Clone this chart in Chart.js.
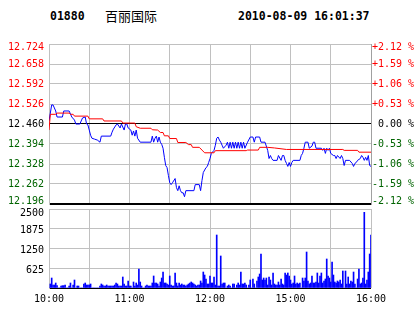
<!DOCTYPE html>
<html>
<head>
<meta charset="utf-8">
<script src="https://cdn.jsdelivr.net/npm/chart.js@4.4.0/dist/chart.umd.min.js"></script>
<style>
  body { margin: 0; background: #fff; width: 414px; height: 314px; overflow: hidden; position: relative; }
  canvas { position: absolute; left: 0; }
  #priceCanvas { top: 0; }
  #volCanvas { top: 195px; }
  .hdr { position: absolute; top: 9px; font: bold 11.5px "DejaVu Sans Mono", monospace; color: #000; line-height: 14px; white-space: nowrap; }
  .name { position: absolute; top: 7px; left: 105px; font: 13px "Noto Sans CJK SC"; line-height: 18px; color: #000; }
</style>
</head>
<body>
<div class="hdr" style="left:50px">01880</div>
<div class="name">百丽国际</div>
<div class="hdr" style="left:238px">2010-08-09 16:01:37</div>
<canvas id="priceCanvas" width="414" height="215"></canvas>
<canvas id="volCanvas" width="414" height="119"></canvas>
<script>
// previous close and axis ticks
const prevClose = 12.46;
const priceTicks = [12.196, 12.262, 12.328, 12.394, 12.460, 12.526, 12.592, 12.658, 12.724];
const volumeTicks = [0, 625, 1250, 1875, 2500];
const gridMinutes = [0, 30, 60, 90, 120, 150, 180, 210, 240];
const timeTickMinutes = [0, 60, 120, 180, 240];
const timeTickLabels = ['10:00', '11:00', '12:00', '15:00', '16:00'];

// last price (minutes after 10:00, trading time only)
const priceMinutes = [0,2,3,4,5,6,10,11,15,16,17,19,20,23,24,25,27,28,29,30,31,32,34,36,38,39,46,47,48,50,51,53,54,56,57,58,59,61,62,63,64,65,66,68,76,77,78,79,80,81,82,83,84,85,86,87,88,89,90,91,92,94,95,96,97,98,99,100,101,102,108,109,112,113,114,115,117,118,119,120,121,123,124,125,126,127,128,129,130,132,133,134,135,136,137,138,139,140,141,142,143,144,145,146,148,150,152,153,154,157,158,161,163,164,165,166,167,170,171,173,174,175,176,177,178,179,180,181,182,187,188,189,190,191,193,194,196,197,198,199,203,204,205,206,207,208,209,210,212,213,214,215,217,218,219,220,221,224,226,227,228,229,230,232,233,234,235,236,237,238,239,240];
const priceValues = [12.470,12.523,12.523,12.513,12.503,12.483,12.483,12.503,12.503,12.493,12.483,12.473,12.460,12.460,12.470,12.480,12.483,12.460,12.457,12.440,12.423,12.413,12.410,12.407,12.400,12.420,12.420,12.433,12.443,12.457,12.460,12.447,12.460,12.440,12.460,12.460,12.447,12.440,12.423,12.437,12.420,12.440,12.413,12.400,12.400,12.420,12.400,12.413,12.420,12.400,12.417,12.400,12.393,12.380,12.350,12.323,12.316,12.290,12.266,12.260,12.266,12.280,12.250,12.240,12.256,12.240,12.233,12.233,12.220,12.240,12.240,12.260,12.260,12.240,12.273,12.300,12.316,12.320,12.333,12.346,12.363,12.373,12.390,12.413,12.417,12.407,12.400,12.390,12.380,12.390,12.400,12.380,12.400,12.380,12.400,12.380,12.400,12.380,12.400,12.380,12.400,12.380,12.400,12.380,12.400,12.417,12.417,12.400,12.417,12.417,12.400,12.400,12.373,12.346,12.356,12.346,12.340,12.340,12.356,12.340,12.356,12.356,12.340,12.330,12.320,12.333,12.320,12.333,12.340,12.340,12.356,12.363,12.380,12.400,12.400,12.380,12.387,12.400,12.400,12.380,12.380,12.373,12.380,12.363,12.380,12.373,12.380,12.363,12.356,12.356,12.346,12.356,12.346,12.356,12.346,12.323,12.340,12.340,12.330,12.320,12.330,12.333,12.340,12.346,12.356,12.350,12.340,12.350,12.340,12.356,12.323,12.320];

// average price
const avgMinutes = [0,1,5,6,15,16,18,19,29,30,40,41,54,55,64,65,68,76,77,81,83,85,86,89,90,95,96,102,104,106,107,112,114,116,123,124,147,148,156,157,163,168,177,219,220,230,231,240];
const avgValues = [12.440,12.492,12.492,12.496,12.496,12.492,12.492,12.486,12.486,12.477,12.477,12.470,12.470,12.463,12.463,12.451,12.446,12.446,12.441,12.440,12.432,12.432,12.421,12.421,12.412,12.412,12.399,12.399,12.392,12.392,12.383,12.383,12.374,12.365,12.365,12.372,12.372,12.374,12.374,12.383,12.383,12.381,12.376,12.376,12.373,12.373,12.367,12.367];

// volume per minute, index = minute
const volumeValues = [
  0,127,316,95,95,158,74,0,0,63, 74,74,95,0,0,63,158,0,95,253,
  0,63,63,0,0,0,127,158,95,95, 95,127,0,0,0,0,0,0,63,127,
  95,63,63,95,63,63,63,63,63,95, 158,127,63,63,63,348,127,63,63,222,
  63,63,0,190,63,158,95,601,190,63, 0,0,63,95,63,63,63,158,380,158,
  158,127,63,190,316,506,158,158,127,95, 380,95,63,63,475,158,63,158,95,127,
  95,95,63,95,127,158,190,158,127,95, 63,95,95,222,158,506,411,285,127,127,
  380,158,158,348,95,1677,63,63,1013,127, 158,158,0,63,95,63,0,127,127,0,
  95,158,95,506,127,127,158,95,0,95, 253,0,285,127,0,222,348,443,1076,253,
  316,253,316,95,348,253,95,475,127,95, 95,190,95,285,127,95,475,411,475,380,
  253,127,158,380,127,158,127,158,0,316, 222,316,1139,222,127,158,380,158,158,190,
  475,158,380,475,158,222,285,918,380,316, 190,823,411,190,158,222,190,253,127,538,
  0,538,127,348,127,222,190,506,127,0, 285,601,127,158,316,2395,127,253,506,1076,
  1677
];

const RED = '#ff0000', GREEN = '#006400', GRID = '#c0c0c0';
const FAMILY = '"DejaVu Sans Mono", monospace';
Chart.defaults.font.family = FAMILY;
Chart.defaults.font.size = 10;

function pct(p) { return (p / prevClose - 1) * 100; }
function signColor(d) { return d > 0.0001 ? RED : (d < -0.0001 ? GREEN : '#000'); }

// edge labels sit inside the plot: top one pushed down, bottom one pushed up
const lastIdx = priceTicks.length - 1;
function edgeLabel(text, i) {
  if (i === lastIdx) return ['', text];
  if (i === 0) return [text, ''];
  return text;
}
const edgeFont = ctx => ({ family: FAMILY, size: 10, lineHeight: (ctx.index === 0 || ctx.index === lastIdx) ? '6px' : 1.2 });

const priceData = priceMinutes.map((m, i) => ({ x: m, y: priceValues[i] }));
const avgData = avgMinutes.map((m, i) => ({ x: m, y: avgValues[i] }));
const volData = volumeValues.map((v, i) => ({ x: i, y: v }));

new Chart(document.getElementById('priceCanvas'), {
  type: 'line',
  data: {
    datasets: [
      { data: avgData, borderColor: RED, borderWidth: 1, pointRadius: 0, tension: 0 },
      { data: priceData, borderColor: '#0000ff', borderWidth: 1, pointRadius: 0, tension: 0 }
    ]
  },
  options: {
    responsive: false, animation: false, devicePixelRatio: 1,
    layout: { padding: { top: 44, bottom: 7, left: 0, right: 0 } },
    plugins: { legend: { display: false }, tooltip: { enabled: false } },
    scales: {
      x: {
        type: 'linear', min: 0, max: 240,
        afterBuildTicks: s => { s.ticks = gridMinutes.map(v => ({ value: v })); },
        ticks: { display: false },
        grid: { color: GRID, drawTicks: false },
        border: { display: false },
        afterFit: s => { s.height = 0; }
      },
      y: {
        position: 'left', min: priceTicks[0], max: priceTicks[lastIdx],
        afterBuildTicks: s => { s.ticks = priceTicks.map(v => ({ value: v })); },
        ticks: {
          padding: 5,
          font: edgeFont,
          color: ctx => signColor(ctx.tick.value - prevClose),
          callback: (v, i) => edgeLabel(v.toFixed(3), i)
        },
        grid: {
          drawTicks: false,
          color: ctx => (ctx.tick && (ctx.tick.value === prevClose || ctx.tick.value === priceTicks[0])) ? '#000' : GRID,
          lineWidth: ctx => (ctx.tick && ctx.tick.value === priceTicks[0]) ? 2 : 1
        },
        border: { color: GRID },
        afterFit: s => { s.width = 49; }
      },
      y2: {
        position: 'right', min: pct(priceTicks[0]), max: pct(priceTicks[lastIdx]),
        afterBuildTicks: s => { s.ticks = priceTicks.map(p => ({ value: pct(p) })); },
        ticks: {
          padding: 1,
          font: edgeFont,
          color: ctx => signColor(ctx.tick.value),
          callback: (v, i) => {
            let t;
            if (Math.abs(v) < 0.0001) t = ' 0.00 %';
            else t = (v > 0 ? '+' : '-') + Math.abs(v).toFixed(2) + ' %';
            return edgeLabel(t, i);
          }
        },
        grid: { display: false, drawTicks: false },
        border: { color: '#a0a0a0' },
        afterFit: s => { s.width = 43; }
      }
    }
  }
});

new Chart(document.getElementById('volCanvas'), {
  type: 'bar',
  data: {
    datasets: [{ data: volData, backgroundColor: '#0000ff', barThickness: 1 }]
  },
  options: {
    responsive: false, animation: false, devicePixelRatio: 1,
    layout: { padding: { top: 14, right: 43, bottom: 0, left: 0 } },
    plugins: { legend: { display: false }, tooltip: { enabled: false } },
    scales: {
      x: {
        type: 'linear', min: 0, max: 240, offset: false,
        afterBuildTicks: s => { s.ticks = gridMinutes.map(v => ({ value: v })); },
        ticks: {
          padding: 5, maxRotation: 0, autoSkip: false, color: '#000',
          callback: v => { const k = timeTickMinutes.indexOf(v); return k >= 0 ? timeTickLabels[k] : ''; }
        },
        grid: { color: GRID, drawTicks: false, offset: false },
        border: { display: false },
        afterFit: s => { s.height = 26; }
      },
      y: {
        min: 0, max: 2500,
        afterBuildTicks: s => { s.ticks = volumeTicks.map(v => ({ value: v })); },
        ticks: {
          padding: 5, color: '#000',
          font: ctx => ({ family: FAMILY, size: 10, lineHeight: ctx.index === volumeTicks.length - 1 ? '8px' : '4px' }),
          callback: v => v === 0 ? '' : ['', String(v)]
        },
        grid: {
          drawTicks: false,
          color: ctx => (ctx.tick && ctx.tick.value === 0) ? '#000' : GRID
        },
        border: { color: GRID },
        afterFit: s => { s.width = 49; }
      }
    }
  }
});
</script>
</body>
</html>
